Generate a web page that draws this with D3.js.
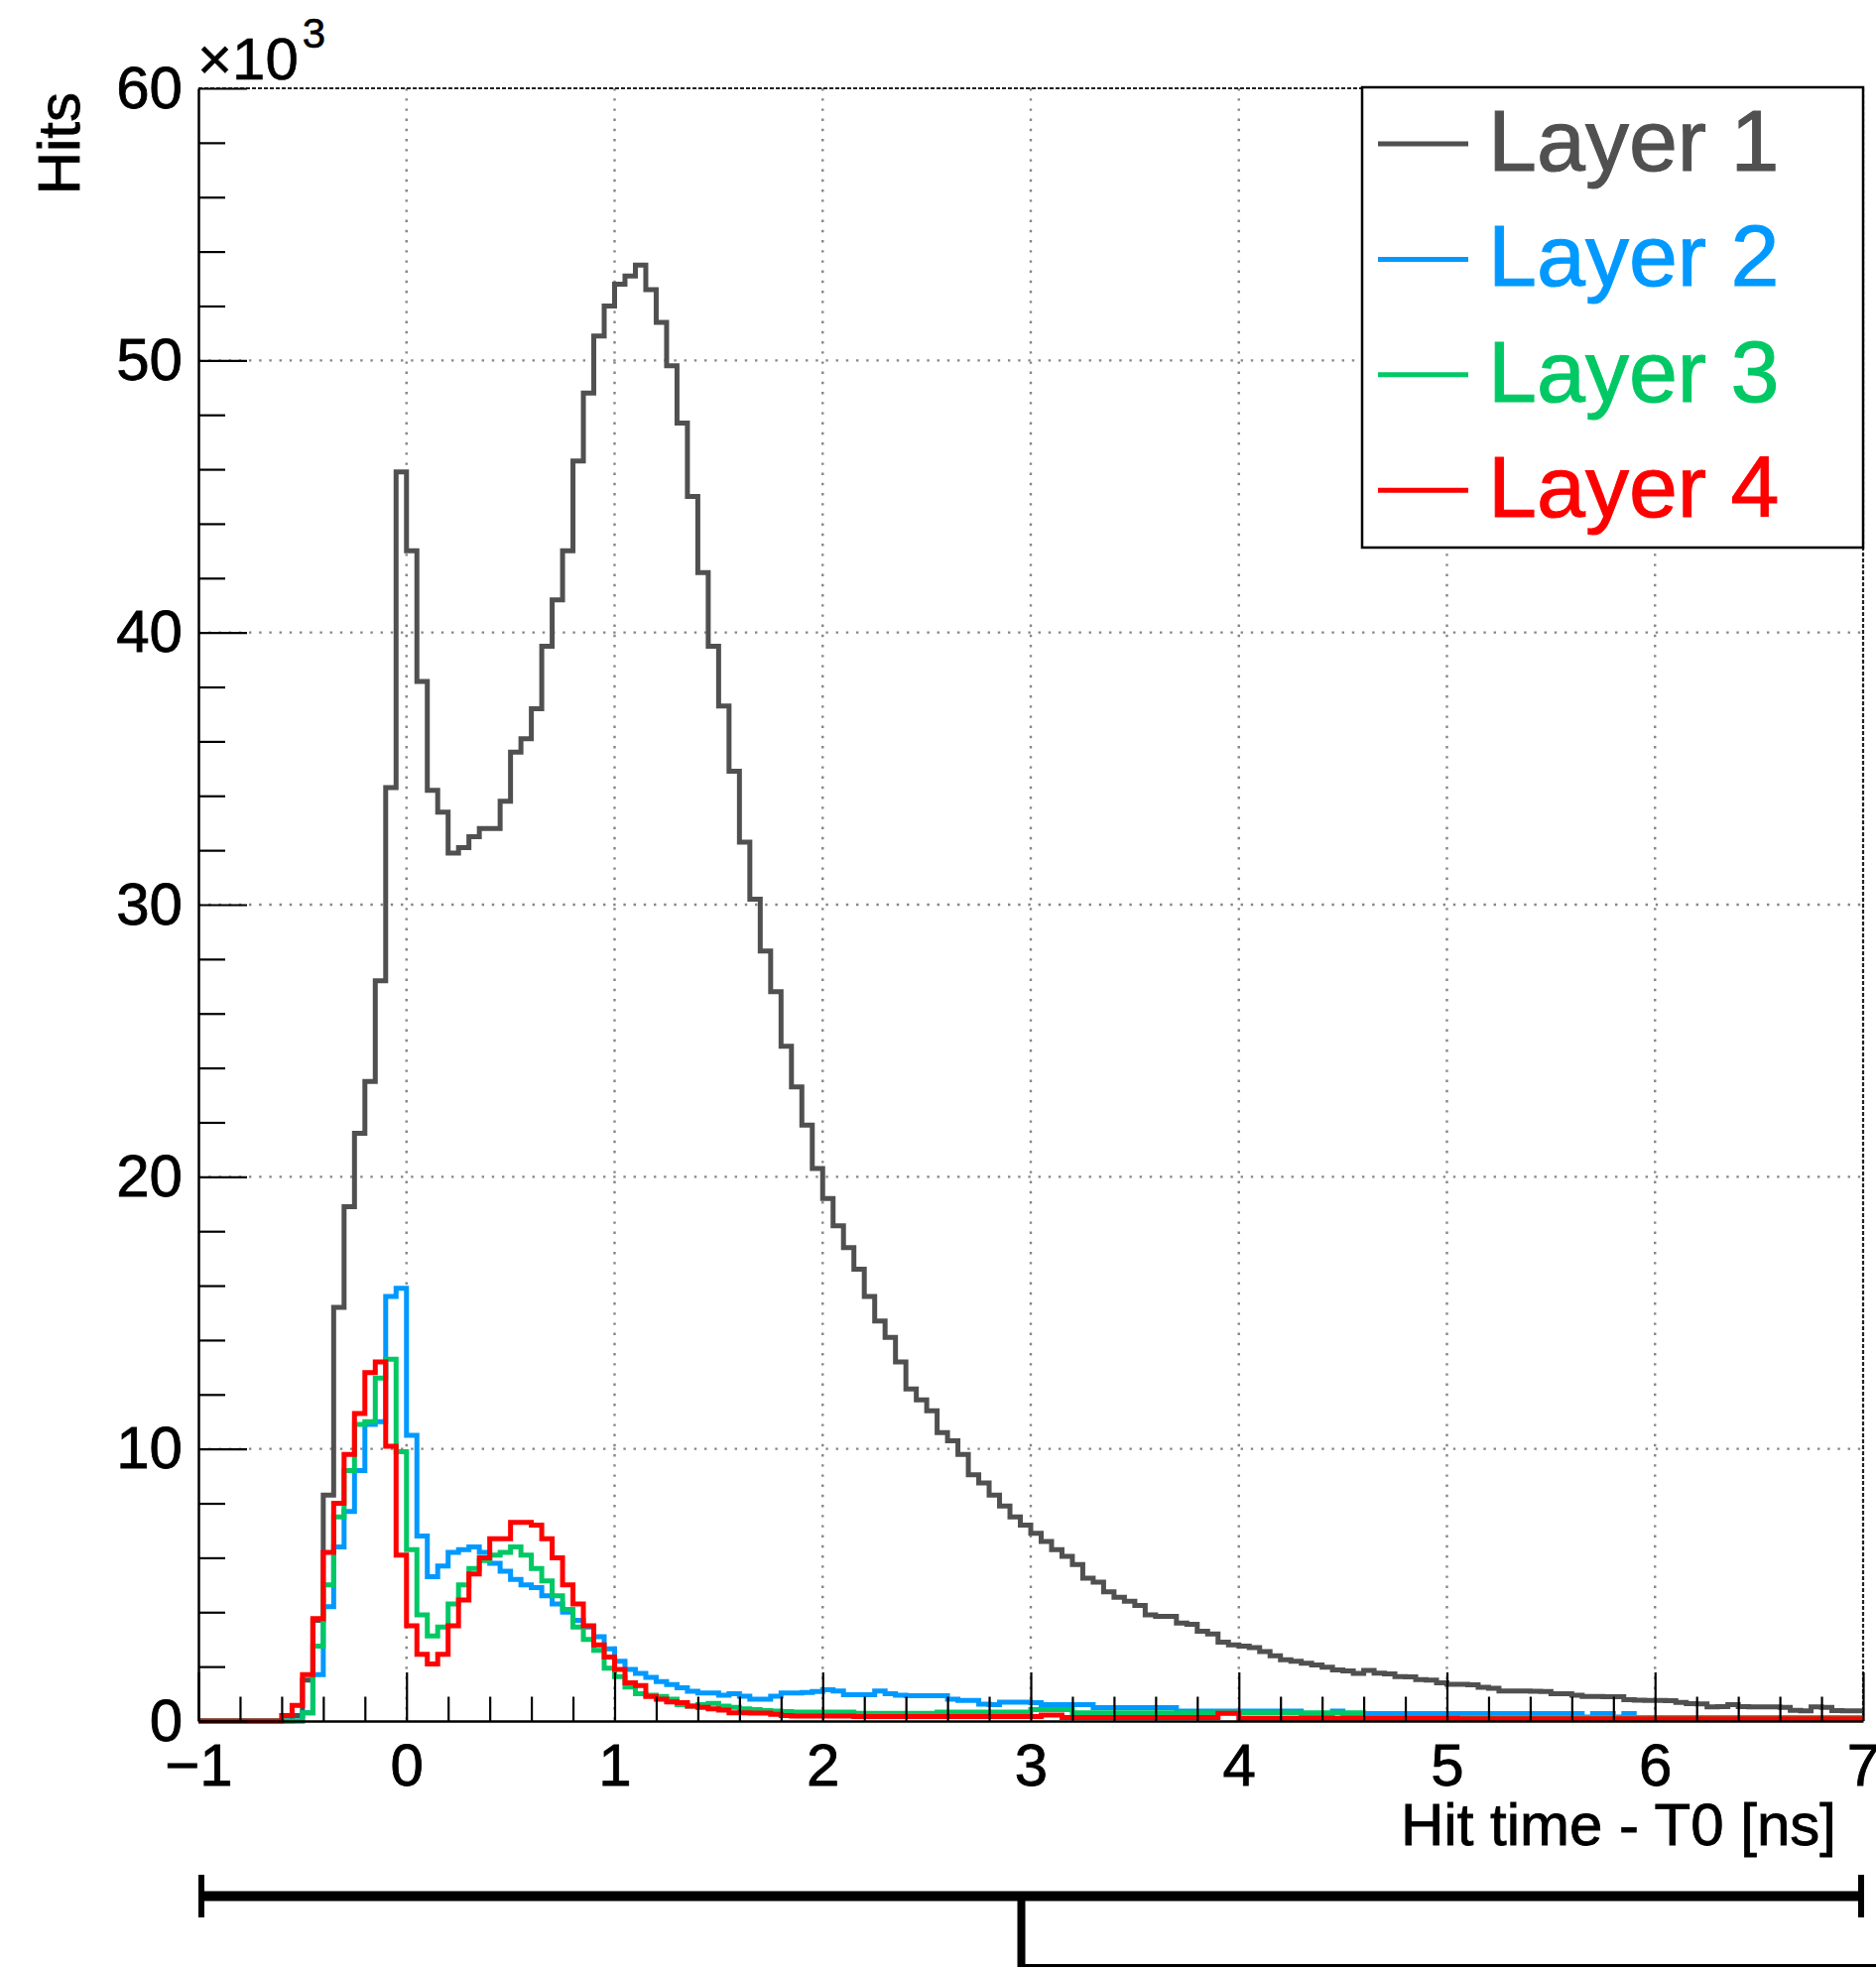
<!DOCTYPE html>
<html>
<head>
<meta charset="utf-8">
<script src="https://cdn.jsdelivr.net/npm/d3@7"></script>
<style>
body { margin: 0; background: #fff; }
svg { display: block; font-family: "Liberation Sans", Arial, Helvetica, sans-serif; }
</style>
</head>
<body>
<svg id="svg1" width="1891" height="1985"></svg>
<script>
// histogram binning: 160 bins of 0.05 ns from -1 to 7
var binStart = -1, binWidth = 0.05;

// bin contents, in units of 10^3 hits
var layer1 = [0,0,0,0,0,0,0,0,0,0.2, 1.5,3.7,8.3,15.2,18.9,21.6,23.5,27.2,34.3,45.9,
  43.0,38.2,34.2,33.4,31.9,32.1,32.5,32.8,32.8,33.8, 35.6,36.1,37.2,39.5,41.2,43.0,46.3,48.8,50.9,52.0,
  52.8,53.1,53.5,52.6,51.4,49.8,47.7,45.0,42.2,39.5, 37.3,34.9,32.3,30.2,28.3,26.8,24.8,23.3,21.9,20.3,
  19.2,18.2,17.4,16.6,15.6,14.7,14.1,13.2,12.2,11.8, 11.4,10.6,10.3,9.8,9.05,8.75,8.3,7.9,7.5,7.2,
  6.9,6.6,6.3,6.05,5.75,5.25,5.1,4.75,4.55,4.4, 4.25,3.9,3.85,3.85,3.6,3.55,3.3,3.2,2.9,2.8,
  2.75,2.7,2.55,2.4,2.25,2.2,2.12,2.06,1.98,1.88, 1.84,1.75,1.86,1.76,1.73,1.63,1.62,1.52,1.5,1.4,
  1.35,1.35,1.33,1.24,1.2,1.1,1.1,1.1,1.09,1.08, 1.0,1.0,0.95,0.9,0.9,0.89,0.89,0.78,0.77,0.76,
  0.76,0.75,0.68,0.64,0.63,0.52,0.53,0.6,0.53,0.52, 0.52,0.52,0.5,0.39,0.37,0.52,0.5,0.38,0.37,0.37];

var layer2 = [0,0,0,0,0,0,0,0,0,0, 0.3,1.7,4.2,6.4,7.7,9.2,10.9,11.0,15.6,15.9,
  10.5,6.8,5.3,5.7,6.2,6.3,6.4,6.2,5.8,5.5, 5.2,5.0,4.9,4.6,4.3,4.0,3.7,3.45,3.1,2.65,
  2.2,1.9,1.75,1.6,1.45,1.34,1.22,1.09,1.03,1.03, 0.95,1.0,0.91,0.8,0.8,0.91,1.03,1.03,1.05,1.08,
  1.15,1.1,0.97,0.97,0.97,1.1,1.0,0.95,0.93,0.93, 0.93,0.93,0.8,0.76,0.76,0.62,0.6,0.69,0.69,0.69,
  0.67,0.6,0.6,0.6,0.6,0.6,0.49,0.49,0.49,0.49, 0.49,0.49,0.49,0.49,0.36,0.36,0.36,0.36,0.36,0.36,
  0.36,0.36,0.36,0.36,0.36,0.36,0.27,0.27,0.27,0.36, 0.27,0.27,0.27,0.27,0.27,0.27,0.27,0.27,0.27,0.27,
  0.27,0.27,0.27,0.27,0.27,0.27,0.27,0.27,0.27,0.27, 0.27,0.27,0.27,0.15,0.27,0.27,0.15,0.27,0.1,0.1,
  0.1,0.1,0.1,0.1,0.1,0.1,0.1,0.1,0.1,0.1, 0.1,0.1,0.1,0.1,0.1,0.1,0.1,0.1,0.1,0.1];

var layer3 = [0,0,0,0,0,0,0,0,0,0, 0.3,2.75,5.0,7.5,9.2,10.9,11.0,12.6,13.3,9.9,
  6.3,3.9,3.13,3.45,4.3,5.0,5.6,5.9,6.1,6.2, 6.4,6.1,5.6,5.15,4.6,4.1,3.45,3.0,2.6,1.94,
  1.63,1.25,1.0,0.95,0.9,0.8,0.6,0.55,0.6,0.65, 0.55,0.5,0.45,0.42,0.38,0.36,0.35,0.33,0.33,0.33,
  0.33,0.33,0.33,0.28,0.28,0.28,0.28,0.28,0.28,0.28, 0.28,0.33,0.33,0.33,0.33,0.33,0.33,0.33,0.33,0.33,
  0.42,0.42,0.42,0.42,0.3,0.3,0.3,0.3,0.3,0.3, 0.3,0.3,0.3,0.3,0.3,0.3,0.3,0.3,0.3,0.3,
  0.3,0.3,0.3,0.3,0.3,0.3,0.3,0.3,0.3,0.3, 0.3,0.3,0.13,0.13,0.13,0.13,0.13,0.13,0.13,0.13,
  0.13,0.13,0.13,0.13,0.13,0.13,0.13,0.13,0.13,0.13, 0.13,0.13,0.13,0.13,0.13,0.13,0.13,0.13,0.13,0.13,
  0.13,0.13,0.13,0.13,0.13,0.13,0.13,0.13,0.13,0.13, 0.13,0.13,0.13,0.13,0.13,0.13,0.13,0.13,0.13,0.13];

var layer4 = [0,0,0,0,0,0,0,0,0.2,0.57, 1.7,3.76,6.2,8.0,9.8,11.3,12.8,13.2,10.1,6.1,
  3.5,2.45,2.1,2.45,3.5,4.45,5.4,6.0,6.7,6.7, 7.3,7.3,7.2,6.7,6.0,5.0,4.3,3.5,2.8,2.35,
  1.9,1.4,1.3,0.9,0.8,0.7,0.67,0.55,0.5,0.45, 0.4,0.3,0.3,0.29,0.29,0.25,0.2,0.18,0.18,0.18,
  0.18,0.18,0.18,0.16,0.16,0.16,0.16,0.16,0.16,0.16, 0.16,0.16,0.16,0.16,0.16,0.16,0.16,0.16,0.16,0.16,
  0.16,0.22,0.22,0.13,0.13,0.13,0.13,0.13,0.13,0.13, 0.13,0.13,0.13,0.13,0.13,0.13,0.13,0.13,0.28,0.28,
  0.1,0.1,0.1,0.1,0.1,0.1,0.1,0.1,0.1,0.1, 0.1,0.1,0.1,0.1,0.1,0.1,0.1,0.1,0.1,0.1,
  0.1,0.08,0.08,0.08,0.08,0.08,0.08,0.08,0.08,0.08, 0.08,0.08,0.08,0.08,0.08,0.08,0.08,0.08,0.08,0.08,
  0.08,0.08,0.08,0.08,0.08,0.08,0.08,0.08,0.08,0.08, 0.08,0.08,0.08,0.08,0.08,0.08,0.08,0.08,0.08,0.08];

var layerNames = ["Layer 1", "Layer 2", "Layer 3", "Layer 4"];
var layerColors = ["#505050", "#0099ff", "#00c864", "#ff0000"];

var xTicks = [-1, 0, 1, 2, 3, 4, 5, 6, 7];
var yTicks = [0, 10, 20, 30, 40, 50, 60];

var svg = d3.select("#svg1"),
    margin = {top: 89, right: 13, bottom: 250, left: 200},
    width = +svg.attr("width") - margin.left - margin.right,
    height = +svg.attr("height") - margin.top - margin.bottom,
    g = svg.append("g").attr("transform", "translate(" + margin.left + "," + margin.top + ")");

var x = d3.scaleLinear().domain([xTicks[0], xTicks[xTicks.length - 1]]).range([0, width]);
var y = d3.scaleLinear().domain([yTicks[0], yTicks[yTicks.length - 1]]).range([height, 0]);

// minor ticks: 5 divisions per major interval
var xMinor = d3.range(-1, 7.001, 0.2).filter(function(d) { return Math.abs(d - Math.round(d)) > 0.01; });
var yMinor = d3.range(0, 60.001, 2).filter(function(d) { return d % 10 != 0; });

// dotted grid
g.append("g")
    .selectAll("line")
    .data(xTicks.slice(1, -1))
    .enter().append("line")
    .attr("x1", function(d) { return x(d); })
    .attr("x2", function(d) { return x(d); })
    .attr("y1", 0)
    .attr("y2", height)
    .attr("stroke", "#858585")
    .attr("stroke-width", 2.4)
    .attr("stroke-dasharray", "2.4,7.8");

g.append("g")
    .selectAll("line")
    .data(yTicks.slice(1, -1))
    .enter().append("line")
    .attr("x1", 0)
    .attr("x2", width)
    .attr("y1", function(d) { return y(d); })
    .attr("y2", function(d) { return y(d); })
    .attr("stroke", "#858585")
    .attr("stroke-width", 2.4)
    .attr("stroke-dasharray", "2.4,7.8");

// top and right edges of the frame (dashed, like the reference)
g.append("line")
    .attr("x1", 0).attr("x2", width).attr("y1", 0).attr("y2", 0)
    .attr("stroke", "#222").attr("stroke-width", 2.2).attr("stroke-dasharray", "4,2");
g.append("line")
    .attr("x1", width).attr("x2", width).attr("y1", 0).attr("y2", height)
    .attr("stroke", "#222").attr("stroke-width", 2.2).attr("stroke-dasharray", "4,2");

// histograms, drawn as step outlines
var series = [layer1, layer2, layer3, layer4];

var step = d3.line()
    .x(function(d) { return x(d.t); })
    .y(function(d) { return y(d.v); })
    .curve(d3.curveStepAfter);

series.forEach(function(vals, k) {
    var pts = vals.map(function(v, i) { return {t: binStart + i * binWidth, v: v}; });
    pts.push({t: binStart + vals.length * binWidth, v: vals[vals.length - 1]});
    g.append("path")
        .datum(pts)
        .attr("fill", "none")
        .attr("stroke", layerColors[k])
        .attr("stroke-width", 5)
        .attr("stroke-linejoin", "miter")
        .attr("d", step);
});

// axes
var xAxis = g.append("g")
    .attr("transform", "translate(0," + height + ")")
    .call(d3.axisBottom(x).tickValues(xTicks).tickSize(-49).tickSizeOuter(0).tickPadding(22));
xAxis.select(".domain").attr("stroke-width", 2.5);
xAxis.selectAll(".tick line").attr("stroke-width", 2.2);
xAxis.selectAll("text")
    .attr("font-size", 60)
    .attr("font-family", "Liberation Sans, Arial, sans-serif")
    .attr("fill", "#000").attr("stroke", "#000").attr("stroke-width", 0.8);

g.append("g")
    .attr("transform", "translate(0," + height + ")")
    .call(d3.axisBottom(x).tickValues(xMinor).tickSize(-24.5).tickSizeOuter(0).tickFormat(""))
    .call(function(s) { s.select(".domain").remove(); })
    .selectAll(".tick line").attr("stroke-width", 2.2);

var yAxis = g.append("g")
    .call(d3.axisLeft(y).tickValues(yTicks).tickSize(-49).tickSizeOuter(0).tickPadding(16));
yAxis.select(".domain").attr("stroke-width", 2.5);
yAxis.selectAll(".tick line").attr("stroke-width", 2.2);
yAxis.selectAll("text")
    .attr("font-size", 60)
    .attr("font-family", "Liberation Sans, Arial, sans-serif")
    .attr("fill", "#000").attr("stroke", "#000").attr("stroke-width", 0.8);

g.append("g")
    .call(d3.axisLeft(y).tickValues(yMinor).tickSize(-27).tickSizeOuter(0).tickFormat(""))
    .call(function(s) { s.select(".domain").remove(); })
    .selectAll(".tick line").attr("stroke-width", 2.2);

// axis titles
svg.append("text")
    .attr("x", 1851)
    .attr("y", 1860)
    .attr("text-anchor", "end")
    .attr("font-size", 60)
    .attr("stroke", "#000").attr("stroke-width", 0.8)
    .text("Hit time - T0 [ns]");

svg.append("text")
    .attr("transform", "rotate(-90)")
    .attr("x", -93)
    .attr("y", 80)
    .attr("text-anchor", "end")
    .attr("font-size", 60)
    .attr("stroke", "#000").attr("stroke-width", 0.8)
    .text("Hits");

// exponent of the y axis
var expo = svg.append("text")
    .attr("x", 199)
    .attr("y", 80)
    .attr("font-size", 60)
    .attr("stroke", "#000").attr("stroke-width", 0.6)
    .text("\u00d710");
expo.append("tspan")
    .attr("dx", 4)
    .attr("dy", -32)
    .attr("font-size", 42)
    .text("3");

// legend box
var legend = svg.append("g");
legend.append("rect")
    .attr("x", 1373)
    .attr("y", 88)
    .attr("width", 505)
    .attr("height", 464)
    .attr("fill", "#fff")
    .attr("stroke", "#000")
    .attr("stroke-width", 2.5);

var entry = legend.selectAll("g")
    .data(layerNames)
    .enter().append("g")
    .attr("transform", function(d, i) { return "translate(0," + i * 116.4 + ")"; });

entry.append("line")
    .attr("x1", 1389)
    .attr("x2", 1480)
    .attr("y1", 145)
    .attr("y2", 145)
    .attr("stroke", function(d, i) { return layerColors[i]; })
    .attr("stroke-width", 5);

entry.append("text")
    .attr("x", 1500)
    .attr("y", 172)
    .attr("font-size", 88)
    .attr("fill", function(d, i) { return layerColors[i]; })
    .attr("stroke", function(d, i) { return layerColors[i]; })
    .attr("stroke-width", 1)
    .text(function(d) { return d; });

// bracket drawn under the plot
var br = svg.append("g").attr("stroke", "#000").attr("fill", "none");
br.append("line").attr("x1", 200).attr("x2", 1879).attr("y1", 1911.5).attr("y2", 1911.5).attr("stroke-width", 10);
br.append("line").attr("x1", 203).attr("x2", 203).attr("y1", 1890).attr("y2", 1933).attr("stroke-width", 6);
br.append("line").attr("x1", 1876).attr("x2", 1876).attr("y1", 1890).attr("y2", 1933).attr("stroke-width", 6);
br.append("line").attr("x1", 1029.5).attr("x2", 1029.5).attr("y1", 1911).attr("y2", 1983).attr("stroke-width", 8);
br.append("line").attr("x1", 1026).attr("x2", 1891).attr("y1", 1981.5).attr("y2", 1981.5).attr("stroke-width", 3);
</script>
</body>
</html>
